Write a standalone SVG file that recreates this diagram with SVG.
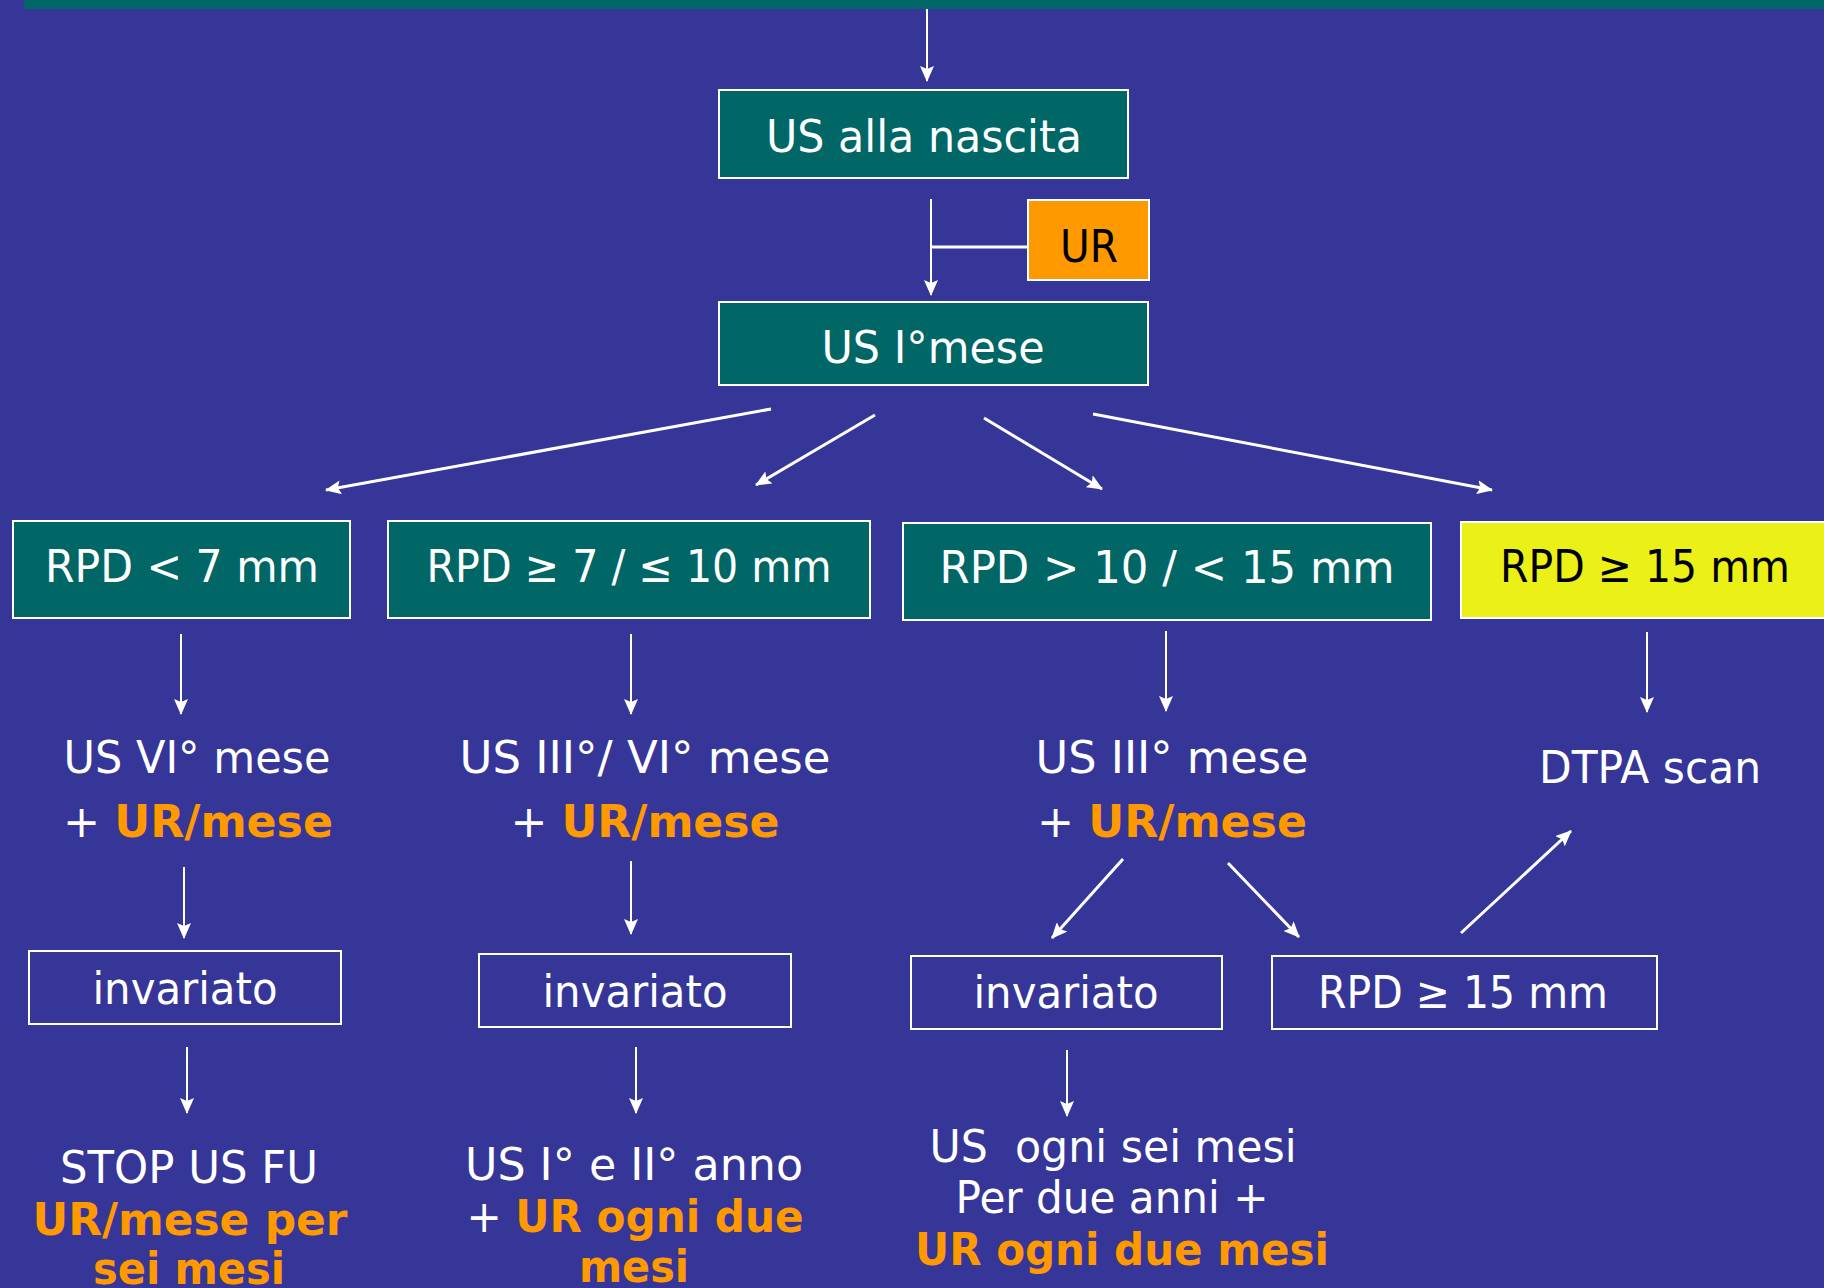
<svg xmlns="http://www.w3.org/2000/svg" width="1824" height="1288" viewBox="0 0 1824 1288">
<style>
text{font-family:"DejaVu Sans","Verdana",sans-serif;font-size:44px;fill:#ffffff;text-anchor:middle}
.b{font-weight:bold;fill:#ff9900}
.dk{fill:#000000}
.teal{fill:#006666;stroke:#ffffff;stroke-width:2}
.open{fill:none;stroke:#ffffff;stroke-width:2}
.c2{stroke:#ffffff;stroke-width:2;fill:none;marker-end:url(#ah)}
.c3{stroke:#ffffff;stroke-width:3;fill:none;marker-end:url(#ah)}
</style>
<defs>
<marker id="ah" viewBox="0 0 16 14" refX="15" refY="7" markerWidth="16" markerHeight="14" markerUnits="userSpaceOnUse" orient="auto">
<path d="M0,0 L16,7 L0,14 L3,7 z" fill="#ffffff"/>
</marker>
</defs>
<rect x="0" y="0" width="1824" height="1288" fill="#363598"/>
<rect x="24" y="0" width="1800" height="9" fill="#006666"/>

<g id="connectors">
<line class="c2" x1="927" y1="9" x2="927" y2="81"/>
<line class="c2" x1="931" y1="199" x2="931" y2="295"/>
<line x1="931" y1="247" x2="1028" y2="247" stroke="#ffffff" stroke-width="3"/>
<line class="c3" x1="771" y1="409" x2="326" y2="490"/>
<line class="c3" x1="875" y1="415" x2="756" y2="485"/>
<line class="c3" x1="984" y1="418" x2="1102" y2="489"/>
<line class="c3" x1="1093" y1="414" x2="1492" y2="490"/>
<line class="c2" x1="181" y1="634" x2="181" y2="714"/>
<line class="c2" x1="631" y1="634" x2="631" y2="714"/>
<line class="c2" x1="1166" y1="631" x2="1166" y2="711"/>
<line class="c2" x1="1647" y1="632" x2="1647" y2="712"/>
<line class="c2" x1="184" y1="867" x2="184" y2="938"/>
<line class="c2" x1="631" y1="861" x2="631" y2="934"/>
<line class="c3" x1="1123" y1="859" x2="1052" y2="938"/>
<line class="c3" x1="1228" y1="863" x2="1299" y2="937"/>
<line class="c3" x1="1461" y1="933" x2="1571" y2="831"/>
<line class="c2" x1="187" y1="1047" x2="187" y2="1113"/>
<line class="c2" x1="636" y1="1047" x2="636" y2="1113"/>
<line class="c2" x1="1067" y1="1050" x2="1067" y2="1116"/>
</g>

<g id="n-nascita">
<rect class="teal" x="719" y="90" width="409" height="88"/>
<text x="924" y="152" textLength="316" lengthAdjust="spacingAndGlyphs">US alla nascita</text>
</g>
<g id="n-ur">
<rect x="1028" y="200" width="121" height="80" fill="#ff9900" stroke="#ffffff" stroke-width="2"/>
<text class="dk" x="1089" y="262" textLength="58" lengthAdjust="spacingAndGlyphs">UR</text>
</g>
<g id="n-mese1">
<rect class="teal" x="719" y="302" width="429" height="83"/>
<text x="933" y="363" textLength="223" lengthAdjust="spacingAndGlyphs">US I°mese</text>
</g>

<g id="n-rpd7">
<rect class="teal" x="13" y="521" width="337" height="97"/>
<text x="182" y="582" textLength="274" lengthAdjust="spacingAndGlyphs">RPD &lt; 7 mm</text>
</g>
<g id="n-rpd7-10">
<rect class="teal" x="388" y="521" width="482" height="97"/>
<text x="629" y="582" textLength="405" lengthAdjust="spacingAndGlyphs">RPD ≥ 7 / ≤ 10 mm</text>
</g>
<g id="n-rpd10-15">
<rect class="teal" x="903" y="523" width="528" height="97"/>
<text x="1167" y="583" textLength="455" lengthAdjust="spacingAndGlyphs">RPD &gt; 10 / &lt; 15 mm</text>
</g>
<g id="n-rpd15">
<rect x="1461" y="522" width="380" height="96" fill="#ebf016" stroke="#ffffff" stroke-width="2"/>
<text class="dk" x="1645" y="582" textLength="290" lengthAdjust="spacingAndGlyphs">RPD ≥ 15 mm</text>
</g>

<g id="n-us6">
<text x="197" y="773" textLength="267" lengthAdjust="spacingAndGlyphs">US VI° mese</text>
<text x="198" y="837" textLength="270" lengthAdjust="spacingAndGlyphs">+ <tspan class="b">UR/mese</tspan></text>
</g>
<g id="n-us3-6">
<text x="645" y="773" textLength="371" lengthAdjust="spacingAndGlyphs">US III°/ VI° mese</text>
<text x="645" y="837" textLength="269" lengthAdjust="spacingAndGlyphs">+ <tspan class="b">UR/mese</tspan></text>
</g>
<g id="n-us3">
<text x="1172" y="773" textLength="273" lengthAdjust="spacingAndGlyphs">US III° mese</text>
<text x="1172" y="837" textLength="270" lengthAdjust="spacingAndGlyphs">+ <tspan class="b">UR/mese</tspan></text>
</g>
<g id="n-dtpa">
<text x="1650" y="783" textLength="222" lengthAdjust="spacingAndGlyphs">DTPA scan</text>
</g>

<g id="n-inv-a">
<rect class="open" x="29" y="951" width="312" height="73"/>
<text x="185" y="1004" textLength="185" lengthAdjust="spacingAndGlyphs">invariato</text>
</g>
<g id="n-inv-b">
<rect class="open" x="479" y="954" width="312" height="73"/>
<text x="635" y="1007" textLength="185" lengthAdjust="spacingAndGlyphs">invariato</text>
</g>
<g id="n-inv-c">
<rect class="open" x="911" y="956" width="311" height="73"/>
<text x="1066" y="1008" textLength="185" lengthAdjust="spacingAndGlyphs">invariato</text>
</g>
<g id="n-rpd15b">
<rect class="open" x="1272" y="956" width="385" height="73"/>
<text x="1463" y="1008" textLength="290" lengthAdjust="spacingAndGlyphs">RPD ≥ 15 mm</text>
</g>

<g id="n-stop">
<text x="189" y="1183" textLength="258" lengthAdjust="spacingAndGlyphs">STOP US FU</text>
<text class="b" x="190" y="1235" textLength="315" lengthAdjust="spacingAndGlyphs">UR/mese per</text>
<text class="b" x="189" y="1284" textLength="192" lengthAdjust="spacingAndGlyphs">sei mesi</text>
</g>
<g id="n-anno">
<text x="634" y="1180" textLength="338" lengthAdjust="spacingAndGlyphs">US I° e II° anno</text>
<text x="635" y="1232" textLength="337" lengthAdjust="spacingAndGlyphs">+ <tspan class="b">UR ogni due</tspan></text>
<text class="b" x="634" y="1282" textLength="110" lengthAdjust="spacingAndGlyphs">mesi</text>
</g>
<g id="n-sei">
<text x="1113" y="1162" xml:space="preserve" textLength="367" lengthAdjust="spacingAndGlyphs">US  ogni sei mesi</text>
<text x="1112" y="1213" textLength="313" lengthAdjust="spacingAndGlyphs">Per due anni +</text>
<text class="b" x="1122" y="1265" textLength="414" lengthAdjust="spacingAndGlyphs">UR ogni due mesi</text>
</g>
</svg>
